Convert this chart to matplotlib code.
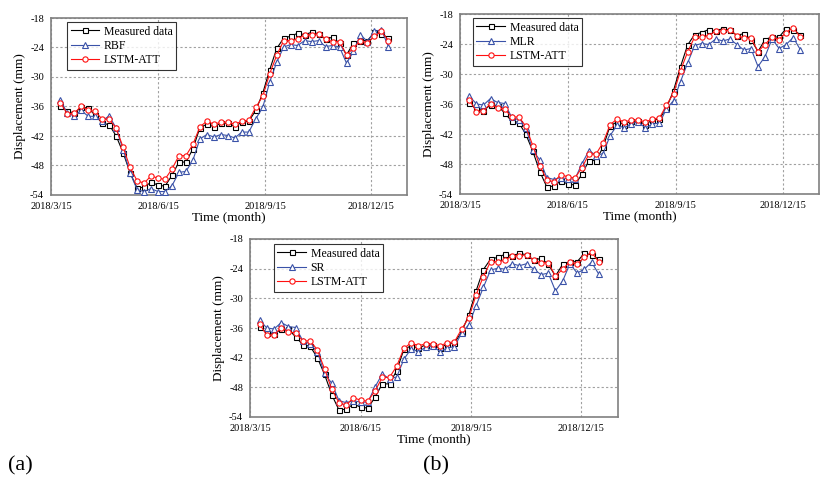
import matplotlib
matplotlib.use("Agg")
import matplotlib.pyplot as plt
import numpy as np
import pandas as pd
from datetime import datetime

plt.rcParams['font.family'] = ['Liberation Serif', 'DejaVu Serif']
plt.rcParams['axes.unicode_minus'] = False

# sampling dates (every 6 days)
dates = pd.date_range('2018-03-23', periods=48, freq='6D')

measured = [-35.8, -37.0, -37.3, -36.2, -36.3, -37.8, -39.4, -39.7, -42.0, -45.4,
            -49.5, -52.6, -52.4, -51.4, -52.0, -52.2, -50.0, -47.3, -47.3, -44.6,
            -40.3, -39.6, -40.1, -39.4, -39.4, -40.1, -39.2, -39.0, -36.8, -33.3,
            -28.5, -24.2, -22.1, -21.7, -21.1, -21.4, -20.9, -21.2, -22.3, -21.9,
            -23.1, -25.5, -23.1, -22.6, -22.6, -20.9, -21.2, -22.1]

lstm_att = [-35.2, -37.5, -37.4, -35.9, -36.8, -37.0, -38.6, -38.6, -40.4, -44.3,
            -48.4, -51.1, -51.6, -50.1, -50.6, -50.8, -48.7, -46.0, -46.0, -43.7,
            -40.1, -39.0, -39.6, -39.2, -39.2, -39.6, -39.0, -38.8, -36.2, -33.9,
            -29.3, -25.6, -22.6, -22.6, -22.3, -21.4, -21.4, -21.2, -22.3, -22.8,
            -22.8, -25.5, -24.1, -22.6, -23.1, -21.7, -20.7, -22.6]

rbf = [-34.6, -37.4, -37.9, -36.8, -38.0, -38.0, -38.9, -37.9, -40.4, -44.8,
       -49.5, -52.9, -53.3, -52.7, -53.3, -53.3, -52.1, -49.4, -49.2, -46.9,
       -42.6, -41.7, -42.2, -41.7, -41.9, -42.4, -41.2, -41.2, -38.5, -36.2,
       -31.0, -27.0, -23.9, -23.4, -23.6, -22.6, -22.8, -22.6, -23.8, -23.6,
       -23.9, -27.2, -24.8, -21.4, -22.8, -20.7, -20.4, -23.8]

mlr = [-34.4, -36.0, -36.2, -34.9, -35.7, -35.9, -38.6, -39.2, -40.8, -45.2,
       -47.2, -50.7, -51.1, -50.7, -51.0, -51.0, -47.9, -45.3, -46.3, -45.9,
       -42.3, -40.2, -40.8, -39.9, -39.6, -40.8, -40.0, -39.8, -37.0, -35.3,
       -31.5, -27.8, -24.3, -23.9, -24.1, -23.0, -23.4, -23.0, -24.1, -25.2,
       -24.9, -28.5, -26.5, -23.0, -24.9, -24.1, -22.7, -25.1]

sr = [-34.4, -36.0, -36.2, -34.9, -35.7, -35.9, -38.6, -39.2, -40.8, -45.2,
      -47.2, -50.7, -51.1, -50.7, -51.0, -51.0, -47.9, -45.3, -46.3, -45.9,
      -42.3, -40.2, -40.8, -39.9, -39.6, -40.8, -40.0, -39.8, -37.0, -35.3,
      -31.5, -27.8, -24.3, -23.9, -24.1, -23.0, -23.4, -23.0, -24.1, -25.2,
      -24.9, -28.5, -26.5, -23.0, -24.9, -24.1, -22.7, -25.1]

tick_dates = [datetime(2018, 3, 15), datetime(2018, 6, 15),
              datetime(2018, 9, 15), datetime(2018, 12, 15)]
tick_labels = ['2018/3/15', '2018/6/15', '2018/9/15', '2018/12/15']
yticks = [-18, -24, -30, -36, -42, -48, -54]

W, H = 821, 482
fig = plt.figure(figsize=(W / 100, H / 100), dpi=100)


def box(l, t, r, b):
    return [l / W, (H - b) / H, (r - l) / W, (b - t) / H]


def panel(rect, model, name, leg_xy):
    ax = fig.add_axes(rect)
    ax.plot(dates, measured, color='black', lw=0.8, marker='s', ms=3.6,
            mfc='white', mec='black', mew=0.8, label='Measured data', zorder=3)
    ax.plot(dates, model, color='#3a52a8', lw=0.8, marker='^', ms=4.0,
            mfc='white', mec='#3a52a8', mew=0.8, label=name, zorder=4)
    ax.plot(dates, lstm_att, color='#ff1010', lw=0.8, marker='o', ms=3.8,
            mfc='white', mec='#ff1010', mew=0.8, label='LSTM-ATT', zorder=5)
    ax.set_xlim(datetime(2018, 3, 15), datetime(2019, 1, 15))
    ax.set_ylim(-54, -18)
    ax.set_xticks(tick_dates)
    ax.set_xticklabels(tick_labels)
    ax.set_yticks(yticks)
    ax.tick_params(length=0, labelsize=7.5, pad=5)
    ax.grid(True, ls=(0, (2, 2)), color='#a0a0a0', lw=0.8)
    for s in ax.spines.values():
        s.set_color('#808080')
        s.set_linewidth(1.2)
    ax.set_xlabel('Time (month)', fontsize=9.5, labelpad=0)
    ax.set_ylabel('Displacement (mm)', fontsize=9.5, labelpad=3)
    leg = ax.legend(loc='upper left', bbox_to_anchor=leg_xy, borderaxespad=0,
                    fontsize=8.5, frameon=True, fancybox=False, edgecolor='black',
                    handlelength=2.4, labelspacing=0.2, borderpad=0.3,
                    handletextpad=0.4)
    leg.get_frame().set_linewidth(0.8)
    return ax


panel(box(51, 18, 407, 195), rbf, 'RBF', (0.045, 0.977))
panel(box(460, 14, 819, 194), mlr, 'MLR', (0.036, 0.978))
panel(box(250, 239, 618, 417), sr, 'SR', (0.065, 0.972))

fig.text(8 / W, 1 - 466 / H, '(a)', fontsize=16, va='center', ha='left')
fig.text(423 / W, 1 - 466 / H, '(b)', fontsize=16, va='center', ha='left')

fig.savefig('out.png', dpi=100)
